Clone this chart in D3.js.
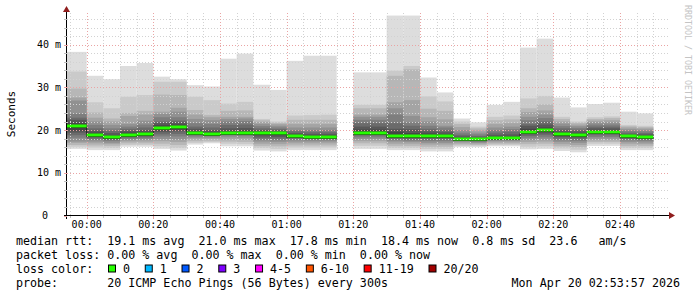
<!DOCTYPE html>
<html>
<head>
<meta charset="utf-8">
<script src="https://cdn.jsdelivr.net/npm/d3@7"></script>
<style>
  body { margin: 0; background: #fff; }
  svg { display: block; }
  text { font-family: "DejaVu Sans Mono", monospace; }
</style>
</head>
<body>
<svg id="graph" width="697" height="297"></svg>
<script>
// DATA (minutes after 00:00, rtt in ms)
const BAR_STARTS = [-5, 0, 5, 10, 15, 20, 25, 30, 35, 40, 45, 50, 55, 60, 65, 70,
  80, 85, 90, 95, 100, 105, 110, 115, 120, 125, 130, 135, 140, 145, 150, 155, 160, 165];
const MEDIANS = [21.0, 18.8, 18.3, 18.9, 19.0, 20.4, 20.7, 19.3, 19.05, 19.4, 19.4, 19.3, 19.3, 18.5, 18.3, 18.3,
  19.4, 19.4, 18.7, 18.5, 18.6, 18.6, 17.9, 17.8, 18.1, 18.1, 19.6, 19.9, 19.1, 18.9, 19.5, 19.5, 18.5, 18.4];
// 20 sorted pings per step
const PINGS = [
  [15.6,16.1,16.5,17.0,17.3,18.2,18.8,19.4,19.9,20.7,21.2,21.6,22.4,22.9,23.8,26.9,27.6,29.7,33.7,38.3],
  [15.3,15.9,16.4,16.9,17.3,17.7,18.0,18.3,18.5,18.7,19.0,19.4,19.8,20.4,21.2,22.0,22.9,24.1,26.5,32.7],
  [15.3,15.8,16.3,16.7,17.0,17.4,17.7,17.9,18.1,18.2,18.5,18.8,19.3,19.8,20.4,21.2,22.0,22.7,25.1,31.9],
  [16.1,16.5,16.9,17.3,17.6,17.9,18.2,18.5,18.7,18.9,19.1,19.4,19.8,20.3,20.8,21.4,23.3,24.0,27.8,35.0],
  [16.1,16.5,16.9,17.3,17.7,18.0,18.3,18.6,18.8,19.0,19.2,19.6,20.0,20.6,21.3,22.2,23.6,24.5,28.2,35.7],
  [15.6,16.2,16.8,17.4,17.9,18.5,19.0,19.5,19.9,20.2,20.6,21.1,21.6,22.0,23.0,23.8,24.3,28.3,31.3,32.5],
  [15.2,15.8,16.5,17.2,17.8,18.5,19.1,19.7,20.1,20.5,20.8,21.3,21.8,22.2,23.0,24.3,25.2,28.2,31.3,31.9],
  [16.6,17.0,17.4,17.8,18.2,18.5,18.8,19.0,19.2,19.3,19.5,19.8,20.3,20.8,21.6,22.6,23.6,24.7,27.8,30.5],
  [16.9,17.2,17.5,17.9,18.2,18.5,18.7,18.9,19.0,19.1,19.3,19.6,20.0,20.6,21.4,22.3,23.0,23.5,27.0,30.2],
  [16.2,16.8,17.3,17.8,18.3,18.7,19.0,19.2,19.3,19.4,19.5,19.8,20.4,21.2,22.0,22.6,23.1,24.5,26.2,36.7],
  [16.2,16.7,17.2,17.7,18.2,18.6,18.9,19.1,19.3,19.4,19.5,19.9,20.5,21.3,22.1,22.7,23.1,24.6,26.6,37.9],
  [15.2,15.8,16.3,16.8,17.3,17.7,18.1,18.5,18.9,19.2,19.4,19.7,20.0,20.4,20.9,21.4,21.9,22.3,22.6,30.6],
  [15.0,15.6,16.2,16.7,17.2,17.6,18.0,18.4,18.8,19.2,19.4,19.6,19.9,20.2,20.6,21.0,21.4,21.7,22.0,29.4],
  [15.3,15.9,16.4,16.9,17.3,17.7,18.0,18.2,18.4,18.5,18.7,19.0,19.3,19.7,20.0,20.6,21.4,22.4,23.4,36.2],
  [15.3,15.9,16.4,16.9,17.3,17.6,17.9,18.1,18.2,18.3,18.5,18.8,19.1,19.5,20.0,20.6,21.4,22.4,23.5,37.4],
  [15.3,15.9,16.4,16.9,17.3,17.6,17.9,18.1,18.2,18.3,18.5,18.8,19.1,19.5,20.0,20.6,21.4,22.4,23.6,37.4],
  [15.6,16.3,16.9,17.4,17.9,18.3,18.7,19.0,19.2,19.4,19.6,20.1,20.8,21.6,22.4,23.1,23.6,25.1,25.9,33.5],
  [15.6,16.3,16.9,17.4,17.9,18.3,18.7,19.0,19.2,19.4,19.6,20.1,20.8,21.6,22.4,23.1,23.6,25.1,25.9,33.5],
  [15.3,15.8,16.3,16.8,17.3,17.6,17.9,18.2,18.5,18.7,18.9,19.6,20.3,21.6,23.6,25.1,26.5,32.7,33.9,46.8],
  [15.3,15.8,16.3,16.8,17.2,17.5,17.8,18.1,18.3,18.5,18.7,19.3,20.2,21.0,21.8,23.3,27.0,34.2,35.0,46.8],
  [15.0,15.6,16.1,16.6,17.0,17.4,17.8,18.1,18.4,18.6,18.8,19.2,19.7,20.3,21.0,22.0,23.0,25.0,27.9,32.3],
  [15.0,15.6,16.1,16.6,17.0,17.4,17.8,18.1,18.4,18.6,18.8,19.1,19.5,20.0,20.6,21.0,22.5,24.5,26.7,28.8],
  [16.0,16.3,16.6,16.9,17.2,17.4,17.6,17.7,17.8,17.9,18.0,18.2,18.5,18.9,19.4,20.0,20.7,21.4,22.0,22.7],
  [16.0,16.3,16.5,16.8,17.0,17.2,17.4,17.5,17.6,17.7,17.9,18.0,18.3,18.6,19.0,19.4,19.9,20.4,20.8,21.8],
  [16.2,16.5,16.8,17.1,17.4,17.6,17.8,17.9,18.0,18.1,18.2,18.5,18.9,19.4,20.0,20.6,21.4,22.3,23.1,25.9],
  [16.2,16.5,16.8,17.1,17.4,17.6,17.8,17.9,18.0,18.1,18.2,18.5,19.0,19.6,20.2,20.8,21.6,22.5,23.4,26.6],
  [15.5,16.1,16.7,17.2,17.7,18.2,18.6,19.0,19.3,19.5,19.8,20.3,21.0,21.4,22.3,23.1,24.2,25.1,27.4,39.3],
  [15.6,16.2,16.8,17.3,17.8,18.3,18.8,19.2,19.5,19.8,20.1,20.6,21.3,22.0,22.8,23.6,24.6,26.0,28.0,41.4],
  [15.1,15.7,16.2,16.7,17.2,17.6,18.0,18.4,18.7,19.0,19.2,19.5,19.9,20.4,20.9,21.5,22.0,22.6,23.1,27.6],
  [14.8,15.4,16.0,16.5,17.0,17.4,17.8,18.2,18.5,18.8,19.0,19.3,19.7,20.1,20.5,20.9,21.3,21.7,22.0,25.3],
  [16.3,16.8,17.2,17.6,18.0,18.4,18.8,19.1,19.3,19.5,19.7,20.0,20.4,20.8,21.3,21.8,22.2,22.6,23.0,26.1],
  [16.3,16.8,17.2,17.6,18.0,18.4,18.8,19.1,19.3,19.5,19.7,20.0,20.4,20.8,21.3,21.8,22.3,22.8,23.2,26.4],
  [15.3,15.8,16.3,16.8,17.2,17.6,17.9,18.1,18.3,18.5,18.6,18.8,19.1,19.4,19.8,20.2,20.6,20.9,21.2,24.3],
  [15.3,15.8,16.3,16.7,17.1,17.5,17.8,18.0,18.2,18.3,18.5,18.7,19.0,19.3,19.7,20.1,20.4,20.7,21.0,23.9]
];

const Y_TICKS = [0, 10, 20, 30, 40];
const Y_TICK_LABELS = ['0', '10 m', '20 m', '30 m', '40 m'];
const X_TICKS = [0, 20, 40, 60, 80, 100, 120, 140, 160];
const X_TICK_LABELS = ['00:00', '00:20', '00:40', '01:00', '01:20', '01:40', '02:00', '02:20', '02:40'];

const LOSS_LABELS = ['0', '1', '2', '3', '4-5', '6-10', '11-19', '20/20'];
const LOSS_COLORS = ['#26ff00', '#00b8ff', '#0059ff', '#7e00ff', '#ff00ff', '#ff5500', '#ff0000', '#a00000'];

const LEGEND_LINES = [
  'median rtt:  19.1 ms avg  21.0 ms max  17.8 ms min  18.4 ms now  0.8 ms sd  23.6   am/s',
  'packet loss: 0.00 % avg  0.00 % max  0.00 % min  0.00 % now',
  'loss color:',
  'probe:       20 ICMP Echo Pings (56 Bytes) every 300s'
];
const STAMP = 'Mon Apr 20 02:53:57 2026';
const WATERMARK = 'RRDTOOL / TOBI OETIKER';

// LAYOUT
const GRAPH = d3.select('#graph');
const LEFT = 67;
const RIGHT = 667;
const TOP = 13;
const BOTTOM = 215.5;
const STEP = 5;
const CHAR_W = 7.02;
const GRID_COLOR = '#d2d2d2';
const MGRID_COLOR = '#eaa4a4';

const x = d3.scaleLinear().domain([-5.9, 174.1]).range([LEFT, RIGHT]);
const y = d3.scaleLinear().domain([0, 47.4]).range([BOTTOM, TOP]);

const bars = BAR_STARTS.map((t, i) => ({
  t: t,
  median: MEDIANS[i],
  pings: PINGS[i],
  x0: i === 0 ? LEFT : x(t),
  x1: x(t + STEP)
}));

// smoke: outer pairs light, inner pairs dark
const HALF = 10;
function smokeColor(ibot) {
  const c = Math.floor(190 / HALF * (HALF - ibot)) + 50;
  return d3.rgb(c, c, c).toString();
}

const smoke = GRAPH.append('g');
d3.range(1, HALF + 1).forEach(ibot => {
  smoke.selectAll(null)
    .data(bars)
    .join('rect')
    .attr('x', d => d.x0)
    .attr('width', d => d.x1 - d.x0)
    .attr('y', d => y(d.pings[20 - ibot]))
    .attr('height', d => y(d.pings[ibot - 1]) - y(d.pings[20 - ibot]))
    .attr('fill', smokeColor(ibot));
});

// median: dark step line under a green loss band
const segments = [];
bars.forEach((d, i) => {
  if (i === 0 || bars[i - 1].t + STEP !== d.t) segments.push([]);
  segments[segments.length - 1].push(d);
});
const stepLine = d3.line().curve(d3.curveStepAfter).x(p => p[0]).y(p => p[1]);
GRAPH.append('g')
  .selectAll('path')
  .data(segments)
  .join('path')
  .attr('d', seg => {
    const pts = seg.map(d => [d.x0, Math.round(y(d.median)) + 1.5]);
    const last = seg[seg.length - 1];
    pts.push([last.x1, Math.round(y(last.median)) + 1.5]);
    return stepLine(pts);
  })
  .attr('fill', 'none')
  .attr('stroke', '#202020')
  .attr('stroke-width', 1);

GRAPH.append('g')
  .selectAll('rect')
  .data(bars)
  .join('rect')
  .attr('x', d => d.x0)
  .attr('width', d => d.x1 - d.x0)
  .attr('y', d => Math.round(y(d.median)) - 1.5)
  .attr('height', 3)
  .attr('fill', LOSS_COLORS[0]);

// GRID (drawn over the data, like rrdtool)
const grid = GRAPH.append('g').attr('shape-rendering', 'crispEdges');
const minorY = d3.range(2, 47, 2).filter(v => v % 10 !== 0);
const majorY = Y_TICKS.filter(v => v > 0);
const minorX = d3.range(-5, 175, 5).filter(v => v % 20 !== 0);

function hLines(values, color) {
  grid.selectAll(null)
    .data(values)
    .join('line')
    .attr('x1', LEFT)
    .attr('x2', RIGHT + 1)
    .attr('y1', v => Math.round(y(v)) + 0.5)
    .attr('y2', v => Math.round(y(v)) + 0.5)
    .attr('stroke', color)
    .attr('stroke-dasharray', '1,2');
}
function vLines(values, color) {
  grid.selectAll(null)
    .data(values)
    .join('line')
    .attr('x1', v => Math.round(x(v)) + 0.5)
    .attr('x2', v => Math.round(x(v)) + 0.5)
    .attr('y1', TOP)
    .attr('y2', BOTTOM)
    .attr('stroke', color)
    .attr('stroke-dasharray', '1,2');
}
hLines(minorY, GRID_COLOR);
vLines(minorX, GRID_COLOR);
hLines(majorY, MGRID_COLOR);
vLines(X_TICKS, MGRID_COLOR);

// AXES
const axes = GRAPH.append('g').attr('shape-rendering', 'crispEdges');
axes.append('line')
  .attr('x1', LEFT - 0.5).attr('x2', LEFT - 0.5)
  .attr('y1', TOP - 2).attr('y2', BOTTOM + 3)
  .attr('stroke', '#000');
axes.append('line')
  .attr('x1', LEFT - 3).attr('x2', RIGHT + 3)
  .attr('y1', BOTTOM).attr('y2', BOTTOM)
  .attr('stroke', '#000');
axes.selectAll(null)
  .data(d3.range(0, 47, 2))
  .join('line')
  .attr('x1', LEFT - 3).attr('x2', LEFT)
  .attr('y1', v => Math.round(y(v)) + 0.5)
  .attr('y2', v => Math.round(y(v)) + 0.5)
  .attr('stroke', v => v % 10 === 0 ? MGRID_COLOR : '#c0c0c0');
axes.selectAll(null)
  .data(d3.range(-5, 175, 5))
  .join('line')
  .attr('x1', v => Math.round(x(v)) + 0.5)
  .attr('x2', v => Math.round(x(v)) + 0.5)
  .attr('y1', BOTTOM)
  .attr('y2', v => BOTTOM + (v % 20 === 0 ? 3 : 2))
  .attr('stroke', v => v % 20 === 0 ? MGRID_COLOR : '#c0c0c0');

GRAPH.append('path')
  .attr('d', `M${LEFT - 4},${TOP - 1}L${LEFT + 3},${TOP - 1}L${LEFT - 0.5},${TOP - 7}Z`)
  .attr('fill', '#8f1d1d');
GRAPH.append('path')
  .attr('d', `M${RIGHT + 2},${BOTTOM - 3.5}L${RIGHT + 2},${BOTTOM + 3.5}L${RIGHT + 8},${BOTTOM}Z`)
  .attr('fill', '#8f1d1d');

// tick labels
GRAPH.append('g')
  .selectAll('text')
  .data(Y_TICKS)
  .join('text')
  .attr('x', (v, i) => v === 0 ? 48 : 61)
  .attr('y', v => y(v) + 3.5)
  .attr('text-anchor', 'end')
  .attr('font-size', '10px')
  .attr('fill', '#000')
  .text((v, i) => Y_TICK_LABELS[i]);

GRAPH.append('g')
  .selectAll('text')
  .data(X_TICKS)
  .join('text')
  .attr('x', v => x(v))
  .attr('y', 228)
  .attr('text-anchor', 'middle')
  .attr('font-size', '10px')
  .attr('fill', '#000')
  .text((v, i) => X_TICK_LABELS[i]);

GRAPH.append('text')
  .attr('transform', 'translate(15,114) rotate(-90)')
  .attr('text-anchor', 'middle')
  .attr('font-size', '11px')
  .text('Seconds');

GRAPH.append('text')
  .attr('transform', 'translate(685,5) rotate(90)')
  .attr('font-size', '8.3px')
  .attr('fill', '#c4c4c4')
  .text(WATERMARK);

// LEGEND
const LEGEND_X = 16;
const LEGEND_BASE = 244.5;
const LINE_H = 14;

GRAPH.append('g')
  .selectAll('text')
  .data(LEGEND_LINES)
  .join('text')
  .attr('x', LEGEND_X)
  .attr('y', (d, i) => LEGEND_BASE + i * LINE_H)
  .attr('font-size', '11.66px')
  .attr('xml:space', 'preserve')
  .style('white-space', 'pre')
  .text(d => d);

GRAPH.append('text')
  .attr('x', 680)
  .attr('y', LEGEND_BASE + 3 * LINE_H)
  .attr('text-anchor', 'end')
  .attr('font-size', '11.66px')
  .text(STAMP);

const lossItems = [];
let bx = 108.5;
LOSS_LABELS.forEach((label, i) => {
  lossItems.push({ label: label, color: LOSS_COLORS[i], bx: bx });
  bx += 14.5 + (label.length + 2) * CHAR_W + 1.2;
});
const lossG = GRAPH.append('g');
lossG.selectAll('rect')
  .data(lossItems)
  .join('rect')
  .attr('x', d => d.bx)
  .attr('y', LEGEND_BASE + 2 * LINE_H - 7.5)
  .attr('width', 7)
  .attr('height', 7)
  .attr('fill', d => d.color)
  .attr('stroke', '#000')
  .attr('stroke-width', 1);
lossG.selectAll('text')
  .data(lossItems)
  .join('text')
  .attr('x', d => d.bx + 14.5)
  .attr('y', LEGEND_BASE + 2 * LINE_H)
  .attr('font-size', '11.66px')
  .text(d => d.label);
</script>
</body>
</html>
